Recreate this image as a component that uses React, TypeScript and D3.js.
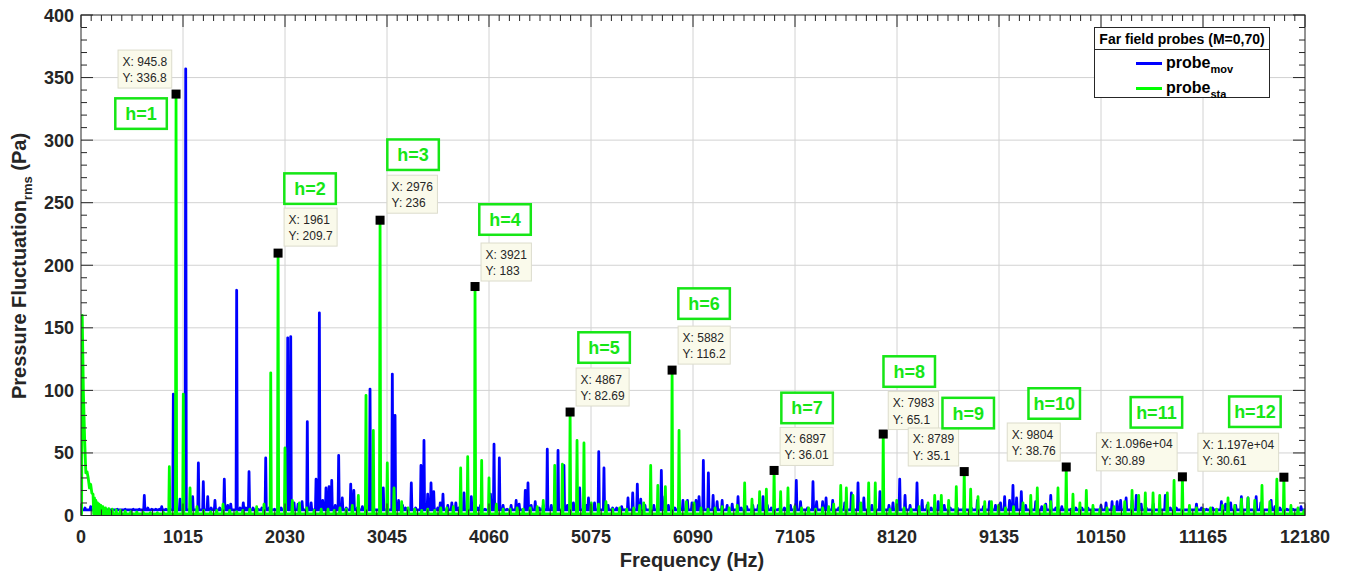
import React from 'react';
import * as d3 from 'd3';

// ---- axis definitions ----
const X_MAX = 12180;
const Y_MAX = 400;
const X_TICKS = [0, 1015, 2030, 3045, 4060, 5075, 6090, 7105, 8120, 9135, 10150, 11165, 12180];
const Y_TICKS = [0, 50, 100, 150, 200, 250, 300, 350, 400];
const X_MINOR_STEP = 101.5;
const Y_MINOR_STEP = 10;

// ---- harmonic peaks of the stationary probe (data tips) ----
const HARMONIC_LABELS = ['h=1', 'h=2', 'h=3', 'h=4', 'h=5', 'h=6', 'h=7', 'h=8', 'h=9', 'h=10', 'h=11', 'h=12'];
const HARMONIC_FREQ = [945.8, 1961, 2976, 3921, 4867, 5882, 6897, 7983, 8789, 9804, 10960, 11970];
const HARMONIC_AMP = [336.8, 209.7, 236, 183, 82.69, 116.2, 36.01, 65.1, 35.1, 38.76, 30.89, 30.61];

// ---- probe_sta spectrum: remaining spectral lines [Hz, Pa] ----
const STA_LINES: [number, number][] = [
  [12, 160], [24, 98], [36, 62], [48, 34], [60, 35], [72, 30], [84, 22], [96, 25], [108, 18], [120, 17],
  [134, 14], [148, 12], [164, 10], [180, 9], [198, 8], [218, 7], [244, 6], [276, 5.5], [310, 5], [350, 4.5],
  [392, 4], [440, 3.5], [495, 3], [555, 2.8], [620, 2.5], [690, 2.3], [760, 2.2], [820, 2.5],
  [879, 39], [1018, 97], [1085, 22], [1154, 7], [1220, 4], [1290, 3], [1350, 4], [1413, 9], [1480, 4],
  [1550, 3], [1610, 4], [1680, 5], [1748, 7], [1821, 9], [1888, 114], [2030, 54], [2103, 12], [2173, 10],
  [2246, 6], [2320, 4], [2390, 5], [2458, 5], [2520, 4], [2577, 6], [2640, 5], [2700, 8], [2760, 16],
  [2836, 96], [2909, 68], [3048, 42], [3115, 22], [3191, 11], [3255, 6], [3320, 5], [3390, 4], [3450, 5],
  [3520, 4], [3580, 6], [3640, 6], [3705, 7], [3778, 38], [3848, 47], [3987, 44], [4060, 30], [4133, 9],
  [4200, 5], [4270, 5], [4340, 6], [4400, 5], [4470, 6], [4540, 7], [4600, 12], [4714, 40], [4790, 41],
  [4936, 60], [5005, 58], [5078, 10], [5150, 9], [5224, 11], [5290, 5], [5360, 6], [5430, 5], [5500, 6],
  [5560, 8], [5600, 10], [5669, 40], [5740, 24], [5815, 23], [5951, 68], [6024, 11], [6100, 10], [6170, 6],
  [6240, 5], [6310, 6], [6380, 7], [6450, 6], [6530, 8], [6604, 26], [6677, 13], [6753, 19], [6820, 21],
  [6962, 19], [7035, 22], [7102, 7], [7170, 6], [7240, 6], [7310, 5], [7380, 6], [7440, 7], [7490, 9],
  [7560, 24], [7616, 22], [7682, 16], [7760, 10], [7838, 26], [7904, 26], [8050, 5], [8117, 12], [8190, 6],
  [8260, 5], [8340, 7], [8429, 10], [8495, 16], [8561, 16], [8634, 12], [8710, 23], [8853, 21], [8926, 15],
  [8993, 11], [9060, 11], [9130, 8], [9200, 6], [9280, 7], [9374, 10], [9451, 16], [9516, 22], [9590, 8],
  [9650, 11], [9722, 22], [9871, 17], [9940, 10], [10004, 20], [10070, 8], [10140, 5], [10210, 6], [10280, 7],
  [10386, 11], [10459, 20], [10525, 16], [10591, 18], [10668, 18], [10734, 16], [10810, 18], [10877, 28],
  [11030, 8], [11100, 6], [11170, 5], [11240, 6], [11300, 5], [11360, 8], [11414, 14], [11480, 8], [11547, 13],
  [11613, 14], [11680, 12], [11752, 24], [11830, 11], [11900, 29], [12040, 8], [12110, 6], [12170, 4],
];

// ---- probe_mov spectrum: spectral lines [Hz, Pa] ----
const MOV_LINES: [number, number][] = [
  [40, 6], [96, 7], [150, 5], [210, 5], [280, 4.5], [360, 5], [440, 5], [520, 5], [580, 5], [630, 16],
  [665, 6], [705, 5], [745, 5], [780, 5], [803, 7], [845, 5], [919, 97], [985, 13], [1042, 357], [1111, 15],
  [1168, 42], [1217, 27], [1261, 15], [1295, 6], [1333, 12], [1380, 6], [1426, 29], [1460, 8], [1490, 9],
  [1549, 180], [1583, 6], [1615, 10], [1642, 6], [1672, 35], [1712, 6], [1760, 5], [1800, 6], [1838, 46],
  [1872, 6], [1925, 5], [1992, 6], [2057, 142], [2087, 143], [2120, 10], [2160, 9], [2200, 11], [2252, 75],
  [2290, 10], [2339, 29], [2372, 162], [2405, 12], [2438, 22], [2468, 23], [2495, 28], [2530, 8], [2564, 48],
  [2600, 14], [2640, 6], [2684, 25], [2715, 20], [2750, 6], [2800, 7], [2876, 101], [3008, 22], [3050, 6],
  [3098, 113], [3125, 80], [3160, 12], [3200, 8], [3230, 6], [3287, 26], [3330, 6], [3383, 40], [3413, 60],
  [3450, 17], [3483, 26], [3510, 19], [3550, 6], [3575, 10], [3602, 17], [3650, 8], [3690, 10], [3730, 10],
  [3760, 6], [3811, 18], [3884, 15], [3950, 6], [3975, 8], [4020, 5], [4075, 17], [4110, 57], [4163, 46],
  [4200, 8], [4240, 5], [4280, 8], [4330, 12], [4360, 9], [4421, 20], [4448, 26], [4480, 8], [4520, 11],
  [4560, 6], [4600, 8], [4640, 53], [4680, 8], [4747, 52], [4806, 40], [4840, 8], [4900, 10], [4962, 22],
  [5030, 8], [5050, 14], [5110, 10], [5152, 51], [5204, 38], [5245, 8], [5290, 6], [5330, 6], [5380, 7],
  [5443, 14], [5490, 18], [5536, 25], [5570, 13], [5612, 8], [5700, 8], [5775, 36], [5810, 15], [5845, 8],
  [5910, 6], [5950, 12], [5990, 12], [6035, 12], [6080, 10], [6120, 12], [6150, 15], [6193, 44], [6243, 34],
  [6290, 16], [6330, 11], [6380, 12], [6430, 8], [6480, 9], [6538, 15], [6570, 6], [6625, 7], [6685, 8],
  [6740, 8], [6787, 15], [6830, 8], [6870, 6], [6940, 5], [7000, 6], [7060, 8], [7118, 28], [7160, 11],
  [7230, 6], [7284, 27], [7320, 11], [7380, 11], [7414, 14], [7480, 12], [7540, 6], [7600, 10], [7666, 18],
  [7732, 26], [7790, 14], [7870, 8], [7950, 19], [8040, 8], [8080, 10], [8147, 29], [8200, 16], [8250, 8],
  [8319, 26], [8370, 12], [8420, 8], [8460, 6], [8530, 11], [8590, 8], [8650, 6], [8720, 6], [8790, 7],
  [8860, 6], [8920, 12], [8980, 7], [9040, 11], [9100, 8], [9150, 10], [9191, 15], [9240, 12], [9274, 24],
  [9310, 14], [9357, 19], [9400, 8], [9450, 6], [9500, 11], [9560, 7], [9600, 9], [9650, 16], [9700, 6],
  [9760, 7], [9850, 5], [9900, 6], [9960, 6], [10020, 6], [10080, 5], [10150, 8], [10200, 10], [10260, 11],
  [10310, 11], [10345, 12], [10400, 14], [10460, 12], [10501, 16], [10550, 9], [10600, 6], [10670, 9],
  [10790, 16], [10840, 6], [10900, 6], [11030, 5], [11100, 9], [11150, 6], [11200, 5], [11260, 6],
  [11348, 11], [11390, 9], [11440, 10], [11490, 8], [11547, 15], [11613, 14], [11694, 15], [11740, 10],
  [11843, 12], [11880, 7], [11930, 6], [12000, 5], [12060, 5], [12140, 7],
];

const STA_FLOOR = 1.2;
const MOV_FLOOR = 4.5;

const LEGEND_TITLE = 'Far field probes (M=0,70)';
const LEGEND_SUBS = ['mov', 'sta'];

// ---- geometry / styling ----
const W = 1345;
const H = 574;
const PLOT = { left: 81, right: 1305, top: 15, bottom: 515.5 };
const FONT = "'Liberation Sans', Arial, Helvetica, sans-serif";
const AXIS_COLOR = '#262626';
const GRID_COLOR = '#d2d2d2';
const BLUE = '#0000ff';
const GREEN = '#00ff00';
const LABEL_GREEN = '#16e616';

// placement of data-tip boxes and harmonic tags, relative to each peak marker (px)
const TIP_OFFSET: [number, number][] = [
  [-58, -44], [6, -45], [7, -45], [6, -43.5], [6, -44], [6, -44],
  [6, -43], [5, -42.5], [-56, -43.6], [-59, -44], [-86, -44], [-86, -44],
];
const TAG_OFFSET: [number, number][] = [
  [-62, 3], [5, -81], [6, -82], [3, -83.5], [7, -81], [5, -83],
  [6, -79], [-1, -79], [-23, -75], [-39, -80], [-53, -81], [-56, -82],
];

const x = d3.scaleLinear().domain([0, X_MAX]).range([PLOT.left, PLOT.right]);
const y = d3.scaleLinear().domain([0, Y_MAX]).range([PLOT.bottom, PLOT.top]);

// spectral lines rise from a noise floor and fall back to it
function spectrumPath(lines: [number, number][], floor: number): string {
  const s = [...lines].sort((a, b) => a[0] - b[0]);
  const hw = 6;
  const pts: [number, number][] = [];
  if (s.length && s[0][0] > 0) pts.push([0, floor]);
  s.forEach(([f, v], i) => {
    const pf = i > 0 ? s[i - 1][0] : -Infinity;
    const nf = i < s.length - 1 ? s[i + 1][0] : Infinity;
    if (f - pf > 2 * hw && f - hw >= 0) pts.push([f - hw, floor]);
    pts.push([f, v]);
    if (nf - f > 2 * hw && f + hw <= X_MAX) pts.push([f + hw, floor]);
  });
  if (s.length && s[s.length - 1][0] < X_MAX) pts.push([X_MAX, floor]);
  const line = d3.line<[number, number]>().x(d => x(d[0])).y(d => y(d[1]));
  return line(pts) || '';
}

function fmtTip(v: number): string {
  if (Math.abs(v) >= 1e4) {
    const [m, e] = v.toExponential(3).split('e');
    const sign = e[0] === '-' ? '-' : '+';
    const digits = e.replace(/[+-]/, '').padStart(2, '0');
    return `${m}e${sign}${digits}`;
  }
  return d3.format('.4~g')(v);
}

let ctx: CanvasRenderingContext2D | null = null;
function textWidth(t: string, font: string): number {
  if (!ctx && typeof document !== 'undefined') ctx = document.createElement('canvas').getContext('2d');
  if (ctx) {
    ctx.font = font;
    return ctx.measureText(t).width;
  }
  return t.length * 6.6;
}

export default function App() {
  const staAll: [number, number][] = [
    ...STA_LINES,
    ...HARMONIC_FREQ.map((f, i) => [f, HARMONIC_AMP[i]] as [number, number]),
  ];
  const bluePath = spectrumPath(MOV_LINES, MOV_FLOOR);
  const greenPath = spectrumPath(staAll, STA_FLOOR);

  const xMinor = d3.range(0, X_MAX + 0.1, X_MINOR_STEP).filter(v => X_TICKS.every(t => Math.abs(t - v) > 1));
  const yMinor = d3.range(0, Y_MAX + 0.1, Y_MINOR_STEP).filter(v => v % 50 !== 0);
  const majorLen = 12;
  const minorLen = 6;

  const legend = { x: 1094, y: 27, w: 175, h: 70 };

  return (
    <svg width={W} height={H} style={{ position: 'absolute', left: 0, top: 0, background: '#fff' }} fontFamily={FONT}>
      <defs>
        <clipPath id="plotClip">
          <rect x={PLOT.left} y={PLOT.top} width={PLOT.right - PLOT.left} height={PLOT.bottom - PLOT.top} />
        </clipPath>
      </defs>
      <rect x={0} y={0} width={W} height={H} fill="#fff" />

      {/* grid */}
      <g stroke={GRID_COLOR} strokeWidth={1}>
        {X_TICKS.slice(1, -1).map(t => (
          <line key={'gx' + t} x1={x(t)} x2={x(t)} y1={PLOT.top} y2={PLOT.bottom} />
        ))}
        {Y_TICKS.slice(1, -1).map(t => (
          <line key={'gy' + t} x1={PLOT.left} x2={PLOT.right} y1={y(t)} y2={y(t)} />
        ))}
      </g>

      {/* spectra */}
      <g clipPath="url(#plotClip)" fill="none" strokeLinejoin="round" strokeLinecap="butt">
        <path d={bluePath} stroke={BLUE} strokeWidth={2.8} />
        <path d={greenPath} stroke={GREEN} strokeWidth={2.8} />
      </g>

      {/* frame and ticks */}
      <g stroke={AXIS_COLOR} strokeWidth={1} fill="none">
        <rect x={PLOT.left} y={PLOT.top} width={PLOT.right - PLOT.left} height={PLOT.bottom - PLOT.top} />
        {X_TICKS.map(t => (
          <g key={'xt' + t}>
            <line x1={x(t)} x2={x(t)} y1={PLOT.bottom} y2={PLOT.bottom - majorLen} />
            <line x1={x(t)} x2={x(t)} y1={PLOT.top} y2={PLOT.top + majorLen} />
          </g>
        ))}
        {xMinor.map(t => (
          <g key={'xm' + t}>
            <line x1={x(t)} x2={x(t)} y1={PLOT.bottom} y2={PLOT.bottom - minorLen} />
            <line x1={x(t)} x2={x(t)} y1={PLOT.top} y2={PLOT.top + minorLen} />
          </g>
        ))}
        {Y_TICKS.map(t => (
          <g key={'yt' + t}>
            <line x1={PLOT.left} x2={PLOT.left + majorLen} y1={y(t)} y2={y(t)} />
            <line x1={PLOT.right} x2={PLOT.right - majorLen} y1={y(t)} y2={y(t)} />
          </g>
        ))}
        {yMinor.map(t => (
          <g key={'ym' + t}>
            <line x1={PLOT.left} x2={PLOT.left + minorLen} y1={y(t)} y2={y(t)} />
            <line x1={PLOT.right} x2={PLOT.right - minorLen} y1={y(t)} y2={y(t)} />
          </g>
        ))}
      </g>

      {/* tick labels */}
      <g fill={AXIS_COLOR} fontWeight="bold" fontSize={18}>
        {X_TICKS.map(t => (
          <text key={'xl' + t} x={x(t)} y={543} textAnchor="middle">{t}</text>
        ))}
        {Y_TICKS.map(t => (
          <text key={'yl' + t} x={74} y={y(t) + 6.5} textAnchor="end">{t}</text>
        ))}
      </g>

      {/* axis titles */}
      <text x={692} y={567} textAnchor="middle" fontWeight="bold" fontSize={20} fill={AXIS_COLOR}>Frequency (Hz)</text>
      <text transform="translate(26,266) rotate(-90)" textAnchor="middle" fontWeight="bold" fontSize={20} fill={AXIS_COLOR}>
        Pressure Fluctuation<tspan dy={6} fontSize={13}>rms</tspan><tspan dy={-6}> (Pa)</tspan>
      </text>

      {/* data tips, peak markers and harmonic tags */}
      {HARMONIC_FREQ.map((f, i) => {
        const mx = x(f);
        const my = y(HARMONIC_AMP[i]);
        const l1 = `X: ${fmtTip(f)}`;
        const l2 = `Y: ${fmtTip(HARMONIC_AMP[i])}`;
        const tw = Math.max(textWidth(l1, `12px ${FONT}`), textWidth(l2, `12px ${FONT}`)) + 9;
        const tx = mx + TIP_OFFSET[i][0];
        const ty = my + TIP_OFFSET[i][1];
        const gx = mx + TAG_OFFSET[i][0];
        const gy = my + TAG_OFFSET[i][1];
        return (
          <g key={'h' + i}>
            <rect x={mx - 4.5} y={my - 4.5} width={9} height={9} fill="#000" />
            <rect x={tx} y={ty} width={tw} height={38} fill="#fafaeb" stroke="#dcdccc" strokeWidth={1} />
            <text x={tx + 4.5} y={ty + 15.5} fontSize={12} fill="#262626">{l1}</text>
            <text x={tx + 4.5} y={ty + 32} fontSize={12} fill="#262626">{l2}</text>
            <rect x={gx + 1.25} y={gy + 1.25} width={51.5} height={30.5} fill="#fff" stroke={LABEL_GREEN} strokeWidth={2.5} />
            <text x={gx + 27} y={gy + 23} textAnchor="middle" fontWeight="bold" fontSize={18} fill={LABEL_GREEN}>
              {HARMONIC_LABELS[i]}
            </text>
          </g>
        );
      })}

      {/* legend */}
      <g>
        <rect x={legend.x + 0.5} y={legend.y + 0.5} width={legend.w} height={legend.h} fill="#fff" stroke={AXIS_COLOR} strokeWidth={1} />
        <line x1={legend.x} x2={legend.x + legend.w} y1={49.5} y2={49.5} stroke={AXIS_COLOR} strokeWidth={1} />
        <text x={legend.x + legend.w / 2 + 0.5} y={44} textAnchor="middle" fontWeight="bold" fontSize={14} fill="#000">
          {LEGEND_TITLE}
        </text>
        {LEGEND_SUBS.map((s, i) => {
          const ly = 63.5 + i * 25;
          return (
            <g key={'lg' + s}>
              <line x1={1136} x2={1162} y1={ly} y2={ly} stroke={i === 0 ? BLUE : GREEN} strokeWidth={3} />
              <text x={1166} y={ly + 4} fontWeight="bold" fontSize={16} fill="#000">
                probe<tspan dy={5} fontSize={11}>{s}</tspan>
              </text>
            </g>
          );
        })}
      </g>
    </svg>
  );
}
